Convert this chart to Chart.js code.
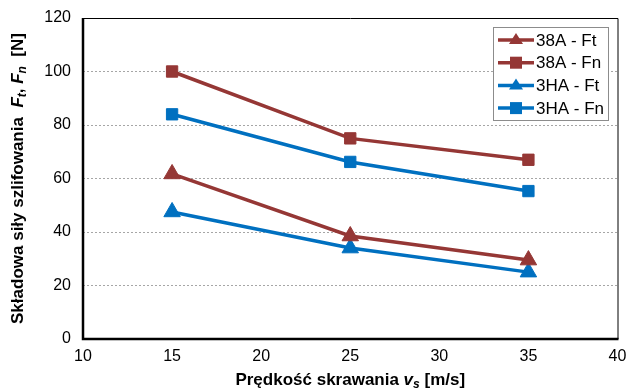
<!DOCTYPE html>
<html>
<head>
<meta charset="utf-8">
<script src="https://cdn.jsdelivr.net/npm/chart.js@4/dist/chart.umd.min.js"></script>
<style>
  html, body { margin: 0; padding: 0; background: #fff; }
  #wrap { width: 628px; height: 392px; position: relative; }
</style>
</head>
<body>
<div id="wrap"><canvas id="forceChart"></canvas></div>
<script>
// Data
const speeds = [15, 25, 35];
const seriesNames = ['38A - Ft', '38A - Fn', '3HA - Ft', '3HA - Fn'];
const ft38A = [61.7, 38.5, 29.5];
const fn38A = [100, 75, 67];
const ftHA = [47.5, 34, 25];
const fnHA = [84, 66.2, 55.3];
const yTicks = [0, 20, 40, 60, 80, 100, 120];
const xTicks = [10, 15, 20, 25, 30, 35, 40];

const RED = '#953735';
const BLUE = '#0070C0';
const FONT = '"Liberation Sans", Arial, sans-serif';

function pts(vals) {
    return speeds.map((s, i) => ({ x: s, y: vals[i] }));
}

function ds(label, vals, color, style) {
    return {
        label: label,
        data: pts(vals),
        borderColor: color,
        backgroundColor: color,
        borderWidth: 3.5,
        pointStyle: style,
        pointRadius: style === 'triangle' ? 9.5 : 8,
        pointBorderWidth: 1,
        pointBorderColor: color,
        tension: 0
    };
}

// draw a line of mixed-font text centred at (cx, cy), optionally rotated
function drawRich(ctx, parts, cx, cy, rotate) {
    ctx.save();
    ctx.translate(cx, cy);
    if (rotate) ctx.rotate(-Math.PI / 2);
    let total = 0;
    parts.forEach(p => { ctx.font = p.font; total += ctx.measureText(p.t).width; });
    let x = -total / 2;
    ctx.fillStyle = '#000';
    ctx.textBaseline = 'middle';
    ctx.textAlign = 'left';
    parts.forEach(p => {
        ctx.font = p.font;
        ctx.fillText(p.t, x, p.dy || 0);
        x += ctx.measureText(p.t).width;
    });
    ctx.restore();
}

const decorations = {
    id: 'decorations',
    afterDraw(chart) {
        const ctx = chart.ctx;
        const a = chart.chartArea;
        // plot frame: thin top/right, heavier axes
        ctx.save();
        ctx.strokeStyle = '#000';
        ctx.lineWidth = 1;
        ctx.beginPath();
        ctx.moveTo(a.left, a.top + 0.5);
        ctx.lineTo(a.right + 0.5, a.top + 0.5);
        ctx.lineTo(a.right + 0.5, a.bottom);
        ctx.stroke();
        ctx.lineWidth = 2.5;
        ctx.beginPath();
        ctx.moveTo(a.left, a.top);
        ctx.lineTo(a.left, a.bottom);
        ctx.lineTo(a.right + 1, a.bottom);
        ctx.stroke();
        ctx.restore();

        const b = 'bold 17px ' + FONT;
        const bi = 'italic bold 17px ' + FONT;
        const sub = 'italic bold 12px ' + FONT;
        drawRich(ctx, [
            { t: 'Składowa siły szlifowania  ', font: b },
            { t: 'F', font: bi },
            { t: 't', font: sub, dy: 5 },
            { t: ', ', font: b },
            { t: 'F', font: bi },
            { t: 'n', font: sub, dy: 5 },
            { t: '  [N]', font: b }
        ], 18, (a.top + a.bottom) / 2, true);

        drawRich(ctx, [
            { t: 'Prędkość skrawania ', font: b },
            { t: 'v', font: bi },
            { t: 's', font: sub, dy: 5 },
            { t: ' [m/s]', font: b }
        ], (a.left + a.right) / 2, 380, false);

        // legend: line + marker
        const lx = 493, ly = 27, lw = 115, lh = 93;
        ctx.save();
        ctx.fillStyle = '#fff';
        ctx.fillRect(lx, ly, lw, lh);
        ctx.strokeStyle = '#8c8c8c';
        ctx.lineWidth = 1;
        ctx.strokeRect(lx + 0.5, ly + 0.5, lw, lh);
        chart.data.datasets.forEach((d, i) => {
            const y = 40 + i * 22.7;
            ctx.strokeStyle = d.borderColor;
            ctx.lineWidth = 3.5;
            ctx.beginPath();
            ctx.moveTo(498, y);
            ctx.lineTo(534, y);
            ctx.stroke();
            ctx.fillStyle = d.borderColor;
            if (d.pointStyle === 'triangle') {
                ctx.beginPath();
                ctx.moveTo(516, y - 7);
                ctx.lineTo(523, y + 4);
                ctx.lineTo(509, y + 4);
                ctx.closePath();
                ctx.fill();
            } else {
                ctx.fillRect(510, y - 6, 12, 12);
            }
            ctx.fillStyle = '#000';
            ctx.font = '17px ' + FONT;
            ctx.textBaseline = 'middle';
            ctx.fillText(d.label, 536, y + 1);
        });
        ctx.restore();
    }
};

new Chart(document.getElementById('forceChart'), {
    type: 'line',
    data: {
        datasets: [
            ds(seriesNames[0], ft38A, RED, 'triangle'),
            ds(seriesNames[1], fn38A, RED, 'rect'),
            ds(seriesNames[2], ftHA, BLUE, 'triangle'),
            ds(seriesNames[3], fnHA, BLUE, 'rect')
        ]
    },
    options: {
        responsive: true,
        maintainAspectRatio: false,
        animation: false,
        layout: { padding: { top: 18, right: 10, left: 0, bottom: 0 } },
        plugins: {
            legend: { display: false },
            tooltip: { enabled: false }
        },
        scales: {
            x: {
                type: 'linear',
                min: 10,
                max: 40,
                afterBuildTicks: s => { s.ticks = xTicks.map(v => ({ value: v })); },
                afterFit: s => { s.height = 53; s.paddingRight = 0; s.paddingLeft = 0; },
                grid: { display: false, drawTicks: false },
                border: { display: false },
                ticks: {
                    color: '#000',
                    padding: 8,
                    font: { family: FONT, size: 16 }
                }
            },
            y: {
                min: 0,
                max: 120,
                afterBuildTicks: s => { s.ticks = yTicks.map(v => ({ value: v })); },
                afterFit: s => { s.width = 83; s.paddingTop = 0; s.paddingBottom = 0; },
                grid: {
                    color: '#a6a6a6',
                    lineWidth: 1,
                    drawTicks: false
                },
                border: { display: false, dash: [2, 2] },
                ticks: {
                    color: '#000',
                    padding: 12,
                    font: { family: FONT, size: 16 }
                }
            }
        }
    },
    plugins: [decorations]
});
</script>
</body>
</html>
